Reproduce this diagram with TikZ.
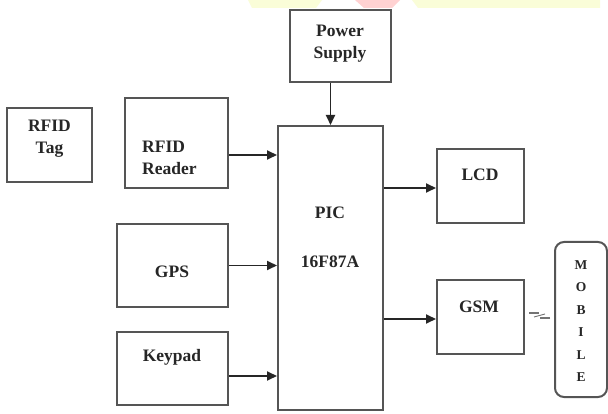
\documentclass[tikz,border=0pt]{standalone}
\usepackage{fontspec}
\setmainfont{Liberation Serif}
\usetikzlibrary{arrows.meta}
\definecolor{boxgray}{HTML}{555555}
\definecolor{wmyellow}{HTML}{FAFDD8}
\definecolor{wmpink}{HTML}{FFD2D2}
\begin{document}
\begin{tikzpicture}[x=1pt,y=-1pt,
  blk/.style={draw=boxgray,line width=2pt,inner sep=0pt,fill=white},
  lbl/.style={font=\fontsize{17.5}{22}\selectfont\bfseries,text=black!85,inner sep=0pt,align=center},
  arr/.style={line width=1.8pt,draw=black!85,-{Triangle[length=10pt,width=9pt]}}]
\useasboundingbox[fill=white] (0,0) rectangle (608,414);
% faint watermark marks at the top edge
\fill[wmyellow] (248,0) -- (322,0) -- (316,8) -- (252,8) -- cycle;
\fill[wmpink] (355,0) -- (400,0) -- (392,8) -- (364,8) -- cycle;
\fill[wmyellow] (412,0) -- (600,0) -- (600,8) -- (418,8) -- cycle;
% blocks
\node[blk,minimum width=101pt,minimum height=72pt] (PS) at (340.5,46) {};
\node[blk,minimum width=105pt,minimum height=284pt] (PIC) at (330.5,268) {};
\node[blk,minimum width=85pt,minimum height=74pt] (TAG) at (49.5,145) {};
\node[blk,minimum width=103pt,minimum height=90pt] (RR) at (176.5,143) {};
\node[blk,minimum width=111pt,minimum height=83pt] (GPS) at (172.5,265.5) {};
\node[blk,minimum width=111pt,minimum height=73pt] (KP) at (172.5,368.5) {};
\node[blk,minimum width=87pt,minimum height=74pt] (LCD) at (480.5,186) {};
\node[blk,minimum width=87pt,minimum height=74pt] (GSM) at (480.5,317) {};
\node[blk,rounded corners=9pt,minimum width=52pt,minimum height=155pt] (MOB) at (581,319.5) {};
% labels
\node[lbl] (tPS) at (340,44) {Power\\Supply};
\node[lbl] (tTAG) at (49.5,139) {RFID\\Tag};
\node[lbl,align=left,anchor=west] (tRR) at (142,158) {RFID\\Reader};
\node[lbl] (tPIC1) at (330,213) {PIC};
\node[lbl] (tPIC2) at (330,262) {16F87A};
\node[lbl] (tGPS) at (172,272) {GPS};
\node[lbl] (tKP) at (172,357) {Keypad};
\node[lbl] (tLCD) at (480,175) {LCD};
\node[lbl] (tGSM) at (479,307) {GSM};
\node[lbl,font=\fontsize{13.5}{22.4}\selectfont\bfseries] (tMOB) at (581,321) {M\\O\\B\\I\\L\\E};
% connectors
\draw[arr] (PIC.north |- PS.south) -- (PIC.north);
\draw[arr] ([yshift=-12pt]RR.east) -- ([yshift=-12pt]RR.east -| PIC.west);
\draw[arr] (GPS.east) -- (GPS.east -| PIC.west);
\draw[arr] ([yshift=-7.5pt]KP.east) -- ([yshift=-7.5pt]KP.east -| PIC.west);
\draw[arr] ([yshift=-2pt]LCD.west -| PIC.east) -- ([yshift=-2pt]LCD.west);
\draw[arr] ([yshift=-2pt]GSM.west -| PIC.east) -- ([yshift=-2pt]GSM.west);
% wireless link symbol
\coordinate (w1) at ([xshift=4pt,yshift=4pt]GSM.east);
\coordinate (w2) at ([xshift=-4pt,yshift=-1pt]MOB.west |- GSM.east);
\draw[line width=1.2pt,draw=black!55] (w1) -- ++(10,0);
\draw[line width=1.2pt,draw=black!55] (w2) -- ++(-10,0);
\draw[line width=0.9pt,draw=black!55] ([xshift=5pt,yshift=-4pt]w1) -- ([xshift=-5pt,yshift=4pt]w2);
\end{tikzpicture}
\end{document}
